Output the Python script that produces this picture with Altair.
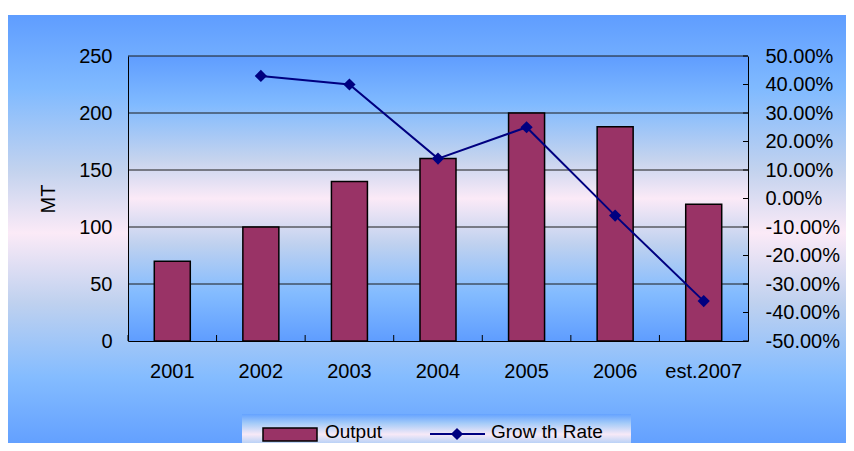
import altair as alt
import pandas as pd

# ---- data ----
years = ["2001", "2002", "2003", "2004", "2005", "2006", "est.2007"]
output = [70, 100, 140, 160, 200, 188, 120]
growth = [None, 0.43, 0.40, 0.14, 0.25, -0.06, -0.36]
series = ["Output", "Grow th Rate"]
left_ticks = [0, 50, 100, 150, 200, 250]
right_ticks = [-0.5, -0.4, -0.3, -0.2, -0.1, 0.0, 0.1, 0.2, 0.3, 0.4, 0.5]

df = pd.DataFrame({"year": years, "output": output, "growth": growth})
grid_df = pd.DataFrame({"v": left_ticks[1:]})
rt_df = pd.DataFrame({"t": right_ticks})
one = pd.DataFrame({"a": [0]})

W, H = 620, 285
FONT = "Liberation Sans"
BAR = "#993366"
LINE = "#000080"


def grad(stops):
    return alt.LinearGradient(
        gradient="linear", x1=0, y1=0, x2=0, y2=1,
        stops=[alt.GradientStop(color=c, offset=o) for o, c in stops],
    )


bg_stops = [(0, "#5F9DFF"), (0.17, "#80BAFF"), (0.36, "#C4D3EE"), (0.5, "#FBEAF7"),
            (0.66, "#BFD1EF"), (0.83, "#84BCFF"), (1, "#5F9DFF")]
legend_stops = [(0, "#64A2FF"), (0.25, "#A4CBF8"), (0.55, "#F7E9F7"), (0.85, "#A9CCF6"), (1, "#86BCFF")]

xscale = alt.Scale(domain=years, paddingInner=0, paddingOuter=0)
xaxis = alt.Axis(labelAngle=0, ticks=False, domainColor="black", domainWidth=1,
                 labelPadding=20, labelFontSize=20, labelFont=FONT, labelColor="black",
                 grid=False, zindex=2, title=None)
yaxisL = alt.Axis(values=left_ticks, ticks=False, domainColor="black", domainWidth=1,
                  labelPadding=16, labelFontSize=20, labelFont=FONT, labelColor="black",
                  grid=False, zindex=2, title="MT", titleFontSize=20, titleFont=FONT,
                  titleFontWeight="normal", titleColor="black", titleAngle=270,
                  titleX=-80, titleY=H / 2, titleAlign="center", titleBaseline="middle")
yaxisR = alt.Axis(values=right_ticks, format=".2%", orient="right", ticks=False,
                  labelExpr="replace(datum.label, '\u2212', '-')",
                  domainColor="black", domainWidth=1, labelPadding=17, labelFontSize=20,
                  labelFont=FONT, labelColor="black", grid=False, zindex=2, title=None)

outer_bg = alt.Chart(one).mark_rect(fill=grad(bg_stops)).encode(
    x=alt.value(-120), x2=alt.value(720), y=alt.value(-41), y2=alt.value(395))
plot_bg = alt.Chart(one).mark_rect(fill=grad(bg_stops)).encode(
    x=alt.value(0), x2=alt.value(W), y=alt.value(0), y2=alt.value(H))

grid = alt.Chart(grid_df).mark_rule(color="#1a1a1a", strokeWidth=1).encode(
    y=alt.Y("v:Q", scale=alt.Scale(domain=[0, 250], nice=False, zero=False), axis=None),
    x=alt.value(0), x2=alt.value(W))

xticks = alt.Chart(df).mark_rule(color="black", strokeWidth=1).encode(
    x=alt.X("year:N", sort=years, scale=xscale, axis=xaxis, bandPosition=0),
    y=alt.value(H - 6), y2=alt.value(H))

rticks = alt.Chart(rt_df).mark_rule(color="black", strokeWidth=1).encode(
    y=alt.Y("t:Q", scale=alt.Scale(domain=[-0.5, 0.5], nice=False, zero=False), axis=None),
    x=alt.value(W - 5), x2=alt.value(W))

bars = alt.Chart(df).mark_bar(size=36, fill=BAR, stroke="black", strokeWidth=1.5).encode(
    x=alt.X("year:N", sort=years, scale=xscale, axis=xaxis),
    y=alt.Y("output:Q", scale=alt.Scale(domain=[0, 250], nice=False), axis=yaxisL))

line = alt.Chart(df).transform_filter("isValid(datum.growth)").mark_line(
    color=LINE, strokeWidth=2,
    point=alt.OverlayMarkDef(shape="diamond", size=150, filled=True, fill=LINE, color=LINE),
).encode(
    x=alt.X("year:N", sort=years, scale=xscale, axis=xaxis),
    y=alt.Y("growth:Q", scale=alt.Scale(domain=[-0.5, 0.5], nice=False, zero=False), axis=yaxisR))

# ---- legend (drawn as marks) ----
leg_bg = alt.Chart(one).mark_rect(fill=grad(legend_stops)).encode(
    x=alt.value(114), x2=alt.value(503), y=alt.value(358), y2=alt.value(395))
leg_sw = alt.Chart(one).mark_rect(fill=BAR, stroke="black", strokeWidth=1.5).encode(
    x=alt.value(135), x2=alt.value(189), y=alt.value(372), y2=alt.value(385))
leg_t1 = alt.Chart(pd.DataFrame({"s": [series[0]]})).mark_text(
    align="left", baseline="alphabetic", fontSize=19, font=FONT, color="black").encode(
    text="s:N", x=alt.value(197), y=alt.value(382))
leg_ln = alt.Chart(one).mark_rule(color=LINE, strokeWidth=2).encode(
    x=alt.value(302), x2=alt.value(357), y=alt.value(378))
leg_pt = alt.Chart(one).mark_point(shape="diamond", size=150, filled=True, fill=LINE,
                                   color=LINE, opacity=1).encode(
    x=alt.value(329), y=alt.value(378))
leg_t2 = alt.Chart(pd.DataFrame({"s": [series[1]]})).mark_text(
    align="left", baseline="alphabetic", fontSize=19, font=FONT, color="black").encode(
    text="s:N", x=alt.value(363), y=alt.value(382))

chart = alt.layer(
    outer_bg, plot_bg, grid, xticks, rticks, bars, line,
    leg_bg, leg_sw, leg_t1, leg_ln, leg_pt, leg_t2,
).resolve_scale(y="independent").properties(
    width=W, height=H,
    autosize=alt.AutoSizeParams(type="none"),
    padding={"left": 120, "top": 48, "right": 98, "bottom": 102},
    background="white",
).configure_view(stroke=None)

chart.save("out.html", embed_options={"renderer": "svg", "actions": False})
